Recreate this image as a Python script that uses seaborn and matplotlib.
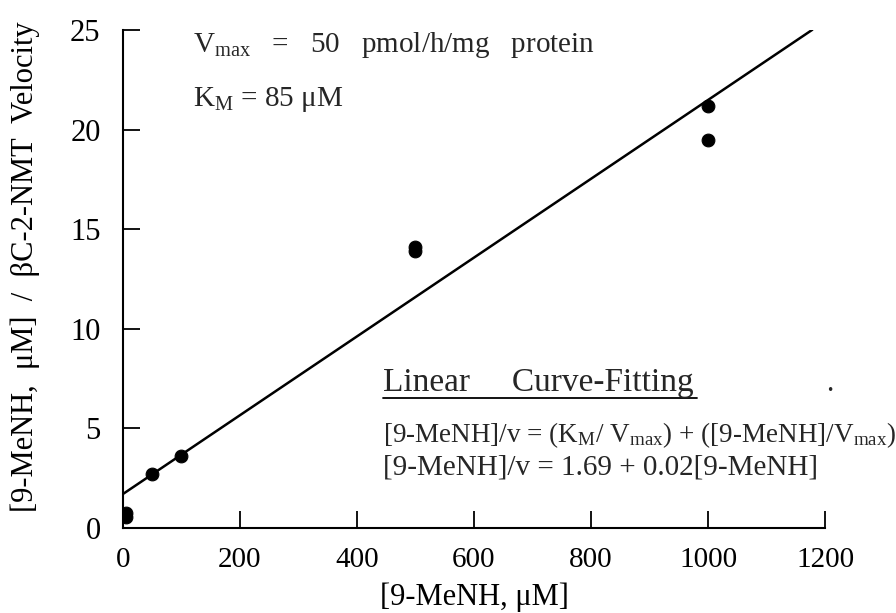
import matplotlib
matplotlib.use("Agg")
import matplotlib.pyplot as plt
import seaborn as sns
import numpy as np
import pandas as pd

conc = [5, 5, 50, 100, 500, 500, 1000, 1000]
ratio = [0.55, 0.75, 2.72, 3.62, 13.9, 14.1, 19.5, 21.2]
fit_intercept = 1.69
fit_slope = 0.0198
fit_x = [0, 1178]
xticks = [0, 200, 400, 600, 800, 1000, 1200]
yticks = [0, 5, 10, 15, 20, 25]

sns.set_theme(style="ticks")
plt.rcParams['font.family'] = ['Liberation Serif', 'DejaVu Serif']
plt.rcParams['mathtext.fontset'] = 'custom'
plt.rcParams['mathtext.rm'] = 'Liberation Serif'
plt.rcParams['mathtext.it'] = 'Liberation Serif:italic'

fig = plt.figure(figsize=(8.96, 6.13), dpi=100)
ax = fig.add_axes([0.137, 0.139, 0.784, 0.812])

df = pd.DataFrame({"x": conc, "y": ratio})
fit_df = pd.DataFrame({"x": fit_x, "y": [fit_intercept + fit_slope * v for v in fit_x]})
sns.lineplot(data=fit_df, x="x", y="y", ax=ax, color="black", lw=1.8)
sns.scatterplot(data=df, x="x", y="y", ax=ax, color="black", s=85, edgecolor="black", zorder=3)

ax.set_xlim(0, 1200)
ax.set_ylim(0, 25)
ax.set_xticks(xticks)
ax.set_yticks(yticks)
ax.tick_params(axis="both", direction="in", length=12, width=1.3, labelsize=21, colors="black")
ax.tick_params(axis="y", pad=16, labelsize=22)
ax.tick_params(axis="x", pad=14)
for s in ["top", "right"]:
    ax.spines[s].set_visible(False)
for s in ["left", "bottom"]:
    ax.spines[s].set_linewidth(1.5)
    ax.spines[s].set_color("black")

ax.set_xlabel("[9-MeNH, μM]", fontsize=22, labelpad=7, color="black")
ax.set_ylabel("[9-MeNH,  μM]  /  βC-2-NMT  Velocity", fontsize=22, color="black")
ax.yaxis.set_label_coords(-0.118, 0.525)

fs = 21
ax.text(0.1, 1.0, r"V$_{\mathrm{max}}$   =   50   pmol/h/mg   protein", transform=ax.transAxes, fontsize=fs, va="top", ha="left")
ax.text(0.1, 0.89, r"K$_{\mathrm{M}}$ = 85 μM", transform=ax.transAxes, fontsize=fs, va="top", ha="left")
ax.text(0.37, 0.275, "Linear     Curve-Fitting", transform=ax.transAxes, fontsize=24, va="baseline", ha="left")
ax.plot([0.37, 0.818], [0.26, 0.26], transform=ax.transAxes, color="black", lw=1.3)
ax.text(1207, 6.86, ".", fontsize=fs, va="baseline", ha="center")
ax.text(0.37, 0.172, r"[9-MeNH]/v = (K$_{\mathrm{M}}$/ V$_{\mathrm{max}}$) + ([9-MeNH]/V$_{\mathrm{max}}$)", transform=ax.transAxes, fontsize=19.5, va="baseline", ha="left")
ax.text(0.37, 0.108, r"[9-MeNH]/v = 1.69 + 0.02[9-MeNH]", transform=ax.transAxes, fontsize=fs, va="baseline", ha="left")

fig.savefig("out.png", dpi=100, facecolor="white")
